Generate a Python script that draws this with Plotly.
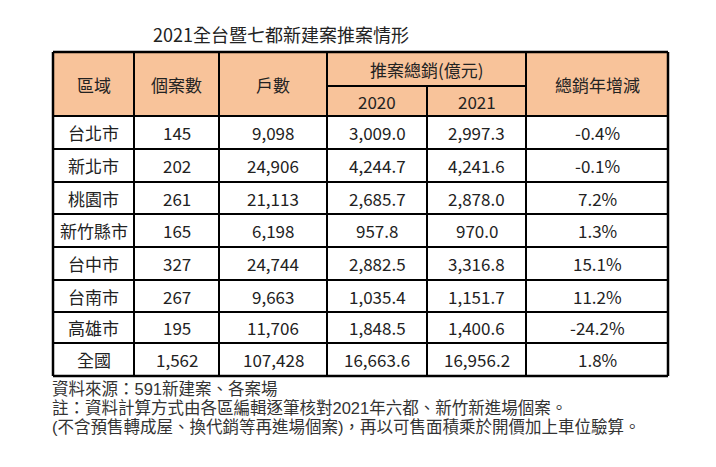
import plotly.graph_objects as go

title = "2021全台暨七都新建案推案情形"
header_top = ["區域", "個案數", "戶數", "推案總銷(億元)", "總銷年增減"]
header_years = ["2020", "2021"]
regions = ["台北市", "新北市", "桃園市", "新竹縣市", "台中市", "台南市", "高雄市", "全國"]
cases = [145, 202, 261, 165, 327, 267, 195, 1562]
units = [9098, 24906, 21113, 6198, 24744, 9663, 11706, 107428]
sales2020 = [3009.0, 4244.7, 2685.7, 957.8, 2882.5, 1035.4, 1848.5, 16663.6]
sales2021 = [2997.3, 4241.6, 2878.0, 970.0, 3316.8, 1151.7, 1400.6, 16956.2]
yoy = [-0.4, -0.1, 7.2, 1.3, 15.1, 11.2, -24.2, 1.8]
notes = [
    "資料來源：591新建案、各案場",
    "註：資料計算方式由各區編輯逐筆核對2021年六都、新竹新進場個案。",
    "(不含預售轉成屋、換代銷等再進場個案)，再以可售面積乘於開價加上車位驗算。",
]

# layout geometry (page pixel units; page body has an 8px margin)
col_x = [53, 134, 219, 327, 427, 526, 668]
hdr_top, hdr_mid, hdr_bot = 52, 86, 116
row_y = [116, 149, 182, 214, 247, 280, 312, 343, 376]
HDR_FILL = "#F8C39A"
FONT = "Noto Sans CJK TC"
NOTE_FONT = "Liberation Sans, Noto Sans CJK TC"
LW = 2

fig = go.Figure()
fig.add_trace(go.Scatter(x=[8, 724], y=[8, 475], mode="markers",
                         marker=dict(opacity=0), hoverinfo="skip", showlegend=False))

shapes = []
shapes.append(dict(type="rect", x0=col_x[0], x1=col_x[-1], y0=hdr_top, y1=hdr_bot,
                   fillcolor=HDR_FILL, line=dict(width=0), layer="below"))
def line(x0, y0, x1, y1, w=LW):
    shapes.append(dict(type="line", x0=x0, y0=y0, x1=x1, y1=y1,
                       line=dict(color="#000", width=w)))
line(col_x[0], hdr_top, col_x[-1], hdr_top, 2.5)
line(col_x[3], hdr_mid, col_x[5], hdr_mid)
for y in row_y[:-1]:
    line(col_x[0], y, col_x[-1], y)
line(col_x[0], row_y[-1], col_x[-1], row_y[-1], 2.5)
for i, x in enumerate(col_x):
    if i == 4:
        line(x, hdr_mid, x, row_y[-1])
    else:
        line(x, hdr_top, x, row_y[-1], 2.5 if i in (0, len(col_x) - 1) else LW)

ann = []
def txt(x, y, s, size=17, color="#222", xanchor="center", family=FONT):
    ann.append(dict(x=x, y=y, text=s, showarrow=False, xanchor=xanchor, yanchor="middle",
                    font=dict(family=family, size=size, color=color)))

txt(281, 34, title, size=18, color="#222")
cx = [(col_x[i] + col_x[i + 1]) / 2 for i in range(6)]
txt(cx[0], (hdr_top + hdr_bot) / 2, header_top[0])
txt(cx[1], (hdr_top + hdr_bot) / 2, header_top[1])
txt(cx[2], (hdr_top + hdr_bot) / 2, header_top[2])
txt((col_x[3] + col_x[5]) / 2, (hdr_top + hdr_mid) / 2, header_top[3])
txt(cx[5], (hdr_top + hdr_bot) / 2, header_top[4])
txt(cx[3], (hdr_mid + hdr_bot) / 2, header_years[0])
txt(cx[4], (hdr_mid + hdr_bot) / 2, header_years[1])

for r in range(len(regions)):
    yc = (row_y[r] + row_y[r + 1]) / 2
    vals = [regions[r], f"{cases[r]:,}", f"{units[r]:,}", f"{sales2020[r]:,.1f}",
            f"{sales2021[r]:,.1f}", f"{yoy[r]:.1f}%"]
    for c, v in enumerate(vals):
        txt(cx[c], yc, v)

for i, n in enumerate(notes):
    txt(50, 389 + i * 19, n, size=16.5, color="#333", xanchor="left", family=NOTE_FONT)

fig.update_layout(
    width=716, height=467, margin=dict(l=0, r=0, t=0, b=0),
    paper_bgcolor="white", plot_bgcolor="white",
    xaxis=dict(range=[8, 724], visible=False, fixedrange=True),
    yaxis=dict(range=[475, 8], visible=False, fixedrange=True),
    shapes=shapes, annotations=ann, showlegend=False,
)
fig.write_html("out.html")
